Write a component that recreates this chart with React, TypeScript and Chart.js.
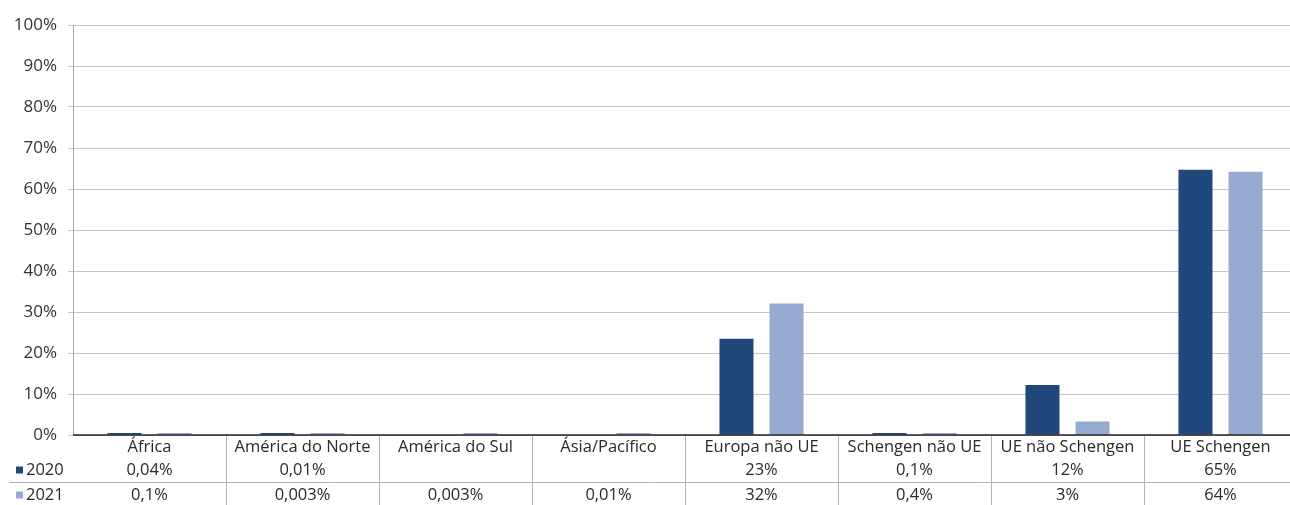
import React, { useEffect, useRef } from "react";
import { Chart, registerables } from "chart.js";

Chart.register(...registerables);

const categories = [
  "África",
  "América do Norte",
  "América do Sul",
  "Ásia/Pacífico",
  "Europa não UE",
  "Schengen não UE",
  "UE não Schengen",
  "UE Schengen",
];
const values2020: (number | null)[] = [0.04, 0.01, null, null, 23.5, 0.1, 12.2, 64.7];
const values2021: (number | null)[] = [0.1, 0.003, 0.003, 0.01, 32.1, 0.4, 3.3, 64.2];
const table2020 = ["0,04%", "0,01%", "", "", "23%", "0,1%", "12%", "65%"];
const table2021 = ["0,1%", "0,003%", "0,003%", "0,01%", "32%", "0,4%", "3%", "64%"];
const seriesNames = ["2020", "2021"];
const yTicks = [0, 10, 20, 30, 40, 50, 60, 70, 80, 90, 100];

const DARK = "#21487a";
const LIGHT = "#96aad1";
const FONT = "'Open Sans', sans-serif";

const tablePlugin = {
  id: "dataTable",
  afterDraw(chart: any) {
    const ctx = chart.ctx as CanvasRenderingContext2D;
    const xs = chart.scales.x;
    const area = chart.chartArea;
    const W = chart.width;
    const H = chart.height;
    ctx.save();
    ctx.strokeStyle = "#b4b4b4";
    ctx.lineWidth = 1;
    for (let i = 0; i < categories.length - 1; i++) {
      const xb = Math.round((xs.getPixelForValue(i) + xs.getPixelForValue(i + 1)) / 2) + 0.5;
      ctx.beginPath();
      ctx.moveTo(xb, area.bottom);
      ctx.lineTo(xb, H);
      ctx.stroke();
    }
    ctx.beginPath();
    ctx.moveTo(9, 482.5);
    ctx.lineTo(W, 482.5);
    ctx.stroke();
    ctx.strokeStyle = "#222";
    ctx.lineWidth = 1.5;
    ctx.beginPath();
    ctx.moveTo(area.left, area.bottom);
    ctx.lineTo(area.right, area.bottom);
    ctx.stroke();
    ctx.fillStyle = "#2a2a2a";
    ctx.font = `16.5px ${FONT}`;
    ctx.textAlign = "center";
    ctx.textBaseline = "middle";
    categories.forEach((c, i) => {
      const cx = xs.getPixelForValue(i);
      ctx.fillText(c, cx, 447);
      ctx.fillText(table2020[i], cx, 470);
      ctx.fillText(table2021[i], cx, 495);
    });
    ctx.textAlign = "left";
    const rows = [
      { y: 470, color: DARK, name: seriesNames[0] },
      { y: 495, color: LIGHT, name: seriesNames[1] },
    ];
    rows.forEach((r) => {
      ctx.fillStyle = r.color;
      ctx.fillRect(16, r.y - 3.5, 7, 7);
      ctx.fillStyle = "#2a2a2a";
      ctx.fillText(r.name, 26, r.y);
    });
    ctx.restore();
  },
};

export default function App() {
  const ref = useRef<HTMLCanvasElement | null>(null);
  useEffect(() => {
    if (!ref.current) return;
    const chart = new Chart(ref.current, {
      type: "bar",
      data: {
        labels: categories,
        datasets: [
          {
            label: seriesNames[0],
            data: values2020,
            backgroundColor: DARK,
            borderWidth: 0,
            barPercentage: 0.68,
            categoryPercentage: 0.654,
            minBarLength: 2,
          },
          {
            label: seriesNames[1],
            data: values2021,
            backgroundColor: LIGHT,
            borderWidth: 0,
            barPercentage: 0.68,
            categoryPercentage: 0.654,
            minBarLength: 2,
          },
        ],
      },
      options: {
        responsive: false,
        animation: false,
        layout: { padding: { top: 25, right: 3, left: 0, bottom: 0 } },
        plugins: { legend: { display: false }, tooltip: { enabled: false } },
        scales: {
          x: {
            ticks: { display: false },
            grid: { display: false },
            border: { display: false },
            afterFit: (s: any) => {
              s.height = 70;
            },
          },
          y: {
            min: 0,
            max: 100,
            afterBuildTicks: (s: any) => {
              s.ticks = yTicks.map((v) => ({ value: v }));
            },
            ticks: {
              padding: 11,
              color: "#333",
              font: { family: FONT, size: 17 },
              callback: (v: any) => `${v}%`,
            },
            grid: { color: "#c6c6c6", tickLength: 5, lineWidth: 1 },
            border: { color: "#a8a8a8" },
            afterFit: (s: any) => {
              s.width = 73;
            },
          },
        },
      },
      plugins: [tablePlugin],
    });
    return () => chart.destroy();
  }, []);
  return (
    <div style={{ position: "fixed", left: 0, top: 0, width: 1290, height: 505, overflow: "hidden", background: "#fff" }}>
      <canvas ref={ref} width={1300} height={505} style={{ display: "block" }} />
    </div>
  );
}
